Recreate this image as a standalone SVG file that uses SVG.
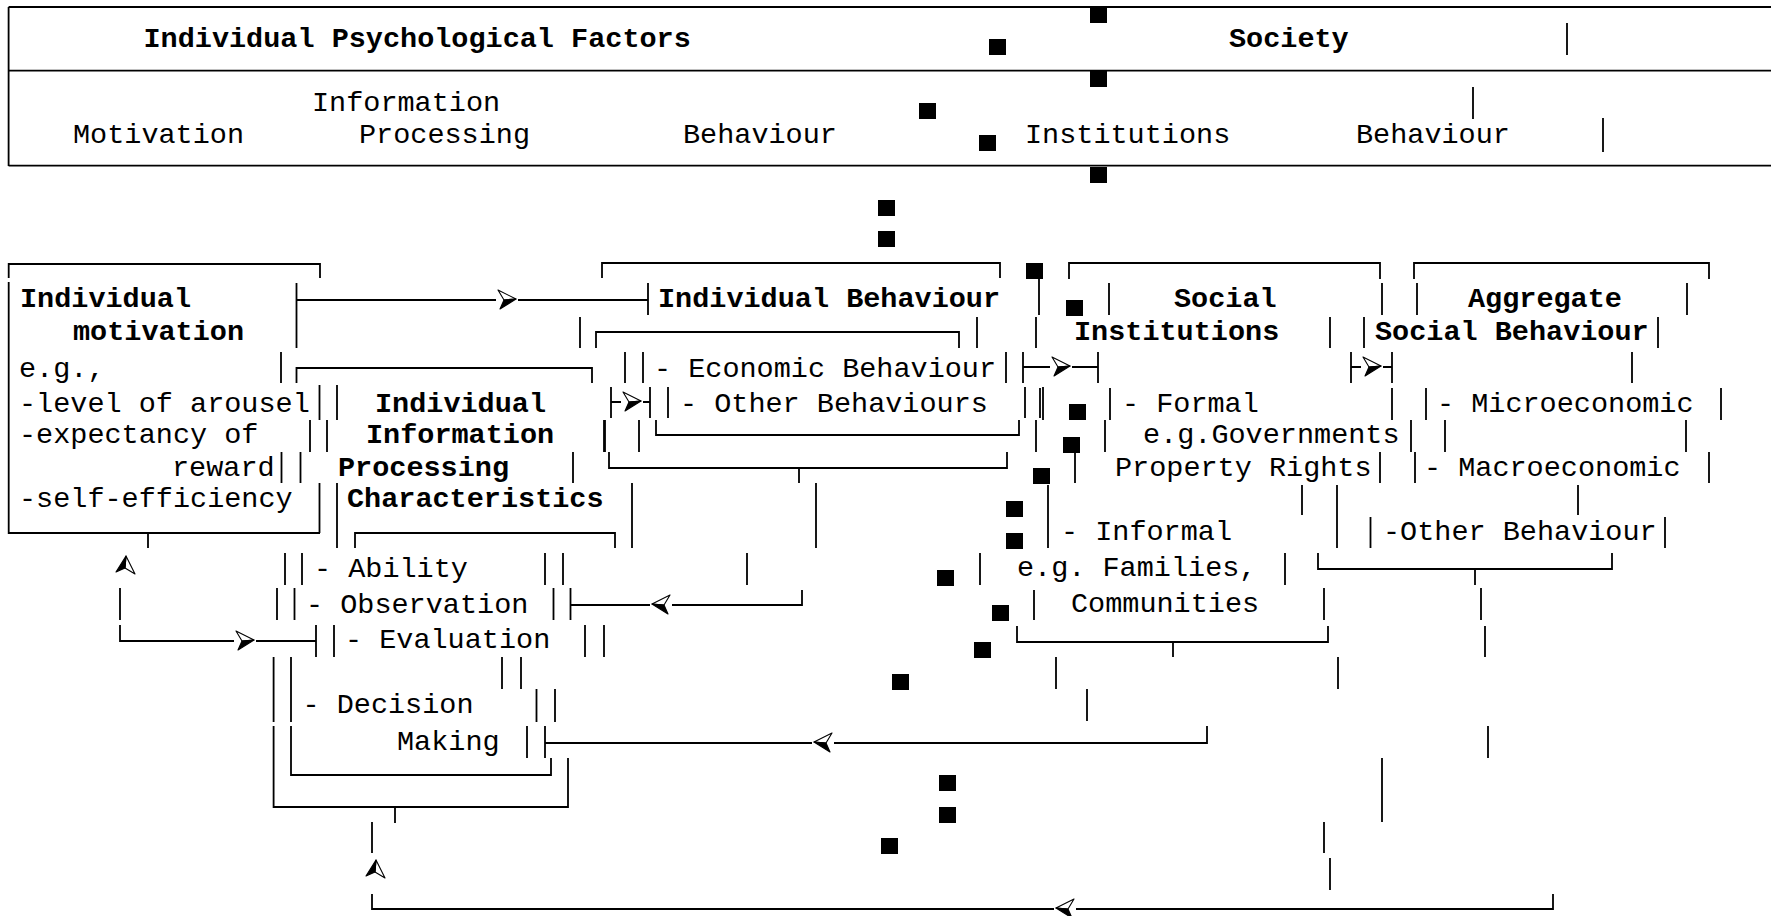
<svg xmlns="http://www.w3.org/2000/svg" width="1771" height="916" viewBox="0 0 1771 916">
<style>
text{font-family:"Liberation Mono","Courier New",monospace;font-size:28.5px;fill:#000}
.b{font-weight:bold}
.ln{fill:none;stroke:#000;stroke-width:1.8}
.sq{fill:#000}
</style>
<defs>
<g id="arr"><rect x="-11" y="-3" width="22" height="6" fill="#fff"/><path d="M-9,-10 L9,-1 L-3,0 Z" fill="#fff" stroke="#000" stroke-width="1.1" stroke-linejoin="round"/><path d="M-7,9 L9,-1 L-3,0 Z" fill="#000" stroke="#000" stroke-width="1.1" stroke-linejoin="round"/></g>
</defs>
<rect width="1771" height="916" fill="#fff"/>
<g id="header-table">
<path class="ln" d="M8.6 7 H1771 M8.6 7 V166 M8.6 70.7 H1771 M8.6 165.7 H1771 M1567 23 V55 M1473 87 V119 M1603 118 V152"/>
<text class="b" x="143.5" y="47">Individual Psychological Factors</text>
<text class="b" x="1229" y="47">Society</text>
<text x="312" y="111">Information</text>
<text x="73" y="143">Motivation</text>
<text x="359" y="143">Processing</text>
<text x="683" y="143">Behaviour</text>
<text x="1025" y="143">Institutions</text>
<text x="1356" y="143">Behaviour</text>
</g>
<g id="squares">
<rect class="sq" x="1090" y="7" width="17" height="16"/>
<rect class="sq" x="989" y="39" width="17" height="16"/>
<rect class="sq" x="1090" y="71" width="17" height="16"/>
<rect class="sq" x="919" y="103" width="17" height="16"/>
<rect class="sq" x="979" y="135" width="17" height="16"/>
<rect class="sq" x="1090" y="167" width="17" height="16"/>
<rect class="sq" x="878" y="200" width="17" height="16"/>
<rect class="sq" x="878" y="231" width="17" height="16"/>
<rect class="sq" x="1026" y="263" width="17" height="16"/>
<rect class="sq" x="1066" y="300" width="17" height="16"/>
<rect class="sq" x="1069" y="404" width="17" height="16"/>
<rect class="sq" x="1063" y="437" width="17" height="16"/>
<rect class="sq" x="1033" y="468" width="17" height="16"/>
<rect class="sq" x="1006" y="501" width="17" height="16"/>
<rect class="sq" x="1006" y="533" width="17" height="16"/>
<rect class="sq" x="937" y="570" width="17" height="16"/>
<rect class="sq" x="992" y="605" width="17" height="16"/>
<rect class="sq" x="974" y="642" width="17" height="16"/>
<rect class="sq" x="892" y="674" width="17" height="16"/>
<rect class="sq" x="939" y="775" width="17" height="16"/>
<rect class="sq" x="939" y="807" width="17" height="16"/>
<rect class="sq" x="881" y="838" width="17" height="16"/>
</g>
<g id="node-motivation">
<path class="ln" d="M8.7 278 V264 H320 V278 M8.7 282 V533 H320 M296.5 283 V348 M281 352 V383 M319.5 385 V420 M337 385 V420 M310 420 V452 M327 420 V452 M281.5 452 V483 M300.5 452 V483 M319.5 483 V533 M337 483 V548 M148 533 V548"/>
<text class="b" x="20" y="307">Individual</text>
<text class="b" x="73" y="340">motivation</text>
<text x="19" y="377">e.g.,</text>
<text x="19" y="412">-level of arousel</text>
<text x="19" y="443">-expectancy of</text>
<text x="172" y="476">reward</text>
<text x="19" y="507">-self-efficiency</text>
</g>
<g id="node-information-processing">
<path class="ln" d="M296.5 383 V368 H592 V383 M573 452 V483 M604 420 V452 M611 387 V418 M650 387 V418 M355 548 V533 H615 V548 M285 553 V585 M302 553 V585 M545 553 V585 M563 553 V585 M277 588 V620 M294.5 588 V620 M553.5 588 V620 M570.5 588 V620 M316 625 V657 M334 625 V657 M585 625 V657 M604 625 V657 M273.6 657 V722 M291 657 V722 M502 657 V689 M521 657 V689 M536.5 689 V722 M555 689 V722 M273.6 726 V807 H568 V758 M291 726 V775 H551 V758 M527 726 V758 M545 726 V758 M395 807 V823"/>
<text class="b" x="375" y="412">Individual</text>
<text class="b" x="366" y="443">Information</text>
<text class="b" x="338" y="476">Processing</text>
<text class="b" x="347" y="507">Characteristics</text>
<text x="314" y="577">- Ability</text>
<text x="306" y="613">- Observation</text>
<text x="345" y="648">- Evaluation</text>
<text x="302.5" y="713">- Decision</text>
<text x="397" y="750">Making</text>
</g>
<g id="node-individual-behaviour">
<path class="ln" d="M602 278 V263 H1000 V278 M648 283 V315 M1039 279 V315 M977 317 V348 M1036 317 V348 M580 317 V348 M596 348 V332 H959 V348 M625 352 V383 M643 352 V383 M1006 352 V383 M1023 352 V383 M668 387 V418 M1025 387 V418 M1043 387 V420 M605 420 V452 M639 420 V452 M656 420 V435 H1019 V420 M1036 420 V452 M609 452 V468 H1007 V452 M799 468 V483 M632 483 V548 M816 483 V548 M747 553 V585"/>
<text class="b" x="658" y="307">Individual Behaviour</text>
<text x="654" y="377">- Economic Behaviour</text>
<text x="680" y="412">- Other Behaviours</text>
</g>
<g id="node-social-institutions">
<path class="ln" d="M1069 279 V263 H1380 V279 M1109 283 V315 M1382 283 V315 M1330 317 V348 M1098 352 V383 M1040 388 V418 M1110 388 V420 M1392 388 V420 M1105 420 V452 M1411 420 V452 M1075 452 V483 M1380 452 V483 M1302 485 V515 M1337 485 V548 M1048 485 V548 M1370.5 517 V548 M980 553 V585 M1285 553 V585 M1034 590 V620 M1324 588 V620 M1017 626 V642 H1328 V626 M1173 642 V657 M1056 657 V689 M1338 657 V689 M1087 689 V721 M1382 758 V822 M1324 822 V853 M1330 858 V890"/>
<text class="b" x="1174" y="307">Social</text>
<text class="b" x="1074" y="340">Institutions</text>
<text x="1122" y="412">- Formal</text>
<text x="1143" y="443">e.g.Governments</text>
<text x="1115" y="476">Property Rights</text>
<text x="1061" y="540">- Informal</text>
<text x="1017" y="576">e.g. Families,</text>
<text x="1071" y="612">Communities</text>
</g>
<g id="node-aggregate-behaviour">
<path class="ln" d="M1414 279 V263 H1709 V279 M1417 283 V315 M1687 283 V315 M1364 317 V348 M1658 317 V348 M1351 352 V383 M1392 352 V383 M1632 352 V383 M1426 388 V420 M1721 388 V420 M1445 420 V452 M1686 420 V452 M1415 452 V483 M1709 452 V483 M1578 485 V515 M1665 517 V548 M1318 553 V569 H1612 V553 M1475 569 V585 M1481 588 V620 M1485 626 V657 M1488 726 V758"/>
<text class="b" x="1468" y="307">Aggregate</text>
<text class="b" x="1375" y="340">Social Behaviour</text>
<text x="1437" y="412">- Microeconomic</text>
<text x="1424" y="476">- Macroeconomic</text>
<text x="1383" y="540">-Other Behaviour</text>
</g>
<g id="connectors">
<path class="ln" d="M296.5 300 H648 M611 402 H650 M1023 367 H1098 M1351 367 H1392 M570.5 605 H802 V590 M120 588 V620 M120 625 V641 H316 M545 743 H1207 V726 M372 822 V853 M372 894 V909 H1553 V894"/>
<use href="#arr" transform="translate(507,300)"/>
<use href="#arr" transform="translate(632,402)"/>
<use href="#arr" transform="translate(1061,367)"/>
<use href="#arr" transform="translate(1372,367)"/>
<use href="#arr" transform="translate(245,641)"/>
<use href="#arr" transform="translate(661,605) scale(-1,1)"/>
<use href="#arr" transform="translate(823,743) scale(-1,1)"/>
<use href="#arr" transform="translate(1065,909) scale(-1,1)"/>
<use href="#arr" transform="matrix(0,-1,-1,0,125,565)"/>
<use href="#arr" transform="matrix(0,-1,-1,0,375,869)"/>
</g>
</svg>
